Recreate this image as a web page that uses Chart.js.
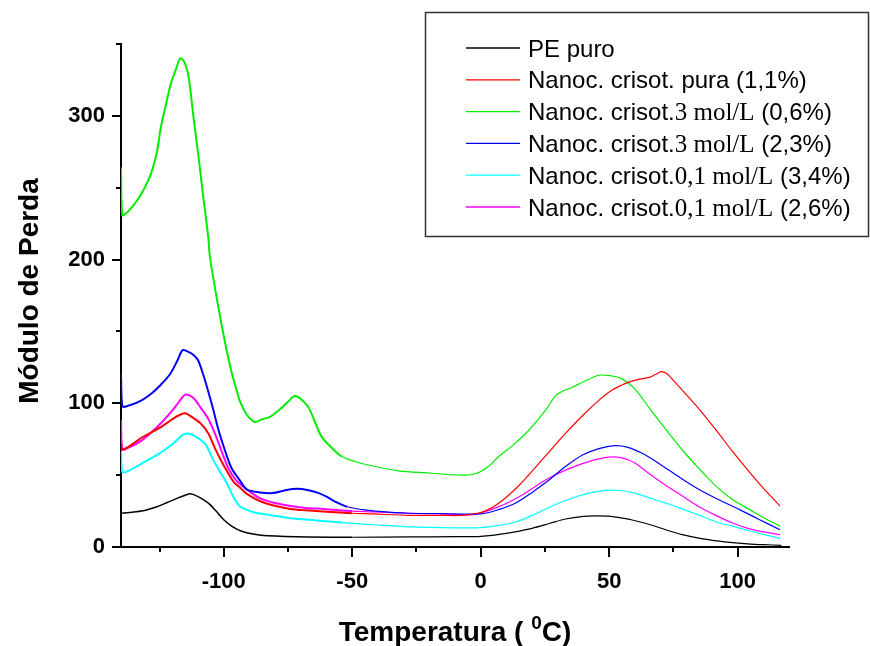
<!DOCTYPE html>
<html>
<head>
<meta charset="utf-8">
<title>Módulo de Perda x Temperatura</title>
<script src="https://cdn.jsdelivr.net/npm/chart.js@4.4.0/dist/chart.umd.min.js"></script>
<style>
    html, body { margin: 0; padding: 0; background: #ffffff; }
    #wrap { width: 870px; height: 646px; position: relative; }
</style>
</head>
<body>
<div id="wrap"><canvas id="lossChart"></canvas></div>
<script>
// series labels / colors
const seriesLabels = [
    'PE puro',
    'Nanoc. crisot. pura (1,1%)',
    'Nanoc. crisot.3 mol/L (0,6%)',
    'Nanoc. crisot.3 mol/L (2,3%)',
    'Nanoc. crisot.0,1 mol/L (3,4%)',
    'Nanoc. crisot.0,1 mol/L (2,6%)'
];
const seriesColors = ['#000000', '#ff0000', '#00ee00', '#0000ff', '#00ffff', '#ff00ff'];

// tick values
const xMajorTicks = [-100, -50, 0, 50, 100];
const xMinorTicks = [-125, -75, -25, 25, 75];
const yMajorTicks = [0, 100, 200, 300];
const yMinorTicks = [50, 150, 250, 350];

// PE puro
const tempPE = [-140, -132, -126, -122, -118, -115, -113, -110, -106, -103, -100, -96.5, -93, -88, -83, -67, -50, -28, -10, 0, 10, 20, 27, 33, 40, 45, 52, 59, 66, 72, 78.5, 86, 92, 98, 105, 110, 117];
const lossPE = [23.5, 25, 28, 31, 34, 36, 37, 35, 30.5, 25, 19, 14, 11, 8.8, 7.8, 7, 6.8, 7, 7.2, 7.4, 9.5, 13, 16.5, 19.5, 21.3, 21.6, 21, 18.8, 15.5, 12, 8.6, 5.8, 4.2, 3, 2, 1.6, 1.2];

// Nanoc. crisot. pura (1,1%)
const tempPura = [-140, -139.5, -136, -132, -128, -124, -120, -117, -115, -112, -109, -106, -103.5, -101, -98.5, -96, -93.5, -91, -86, -81, -74, -68, -60, -50, -42, -28, -15, -8, 0, 7, 15, 22.6, 28, 33, 40, 46, 51, 56.6, 61, 65.6, 68, 70.3, 72.5, 75, 78.5, 85, 91.8, 98, 104.7, 110, 116.5];
const lossPura = [72, 68, 71, 76, 80, 84, 89, 92, 93, 90, 86, 79, 69, 60, 52, 45, 41, 37, 32, 29, 26.5, 25.5, 24.5, 23.5, 23, 22, 22, 22, 24, 30.5, 43, 58, 69, 79, 92, 102, 109, 114, 116.5, 118, 120, 122, 120.5, 116, 109, 96, 81, 66.5, 52, 41, 28.5];

// Nanoc. crisot.3 mol/L (0,6%)
const temp3a = [-140, -139.5, -137.5, -135, -132, -128.5, -126, -124.5, -122.5, -120.5, -118.5, -117, -115.5, -114, -113, -112, -110, -108, -106, -105.4, -103, -101, -99, -97, -95, -93.6, -91, -88, -85, -82, -78, -75, -72.5, -70, -67, -64.5, -62, -58, -54, -48, -41, -32, -20, -8, -2, 3, 7, 12, 17.5, 22, 26, 29, 32, 35.5, 40, 46, 51, 55, 60, 65.5, 72, 78.5, 85, 91.8, 98, 104.7, 110, 116.5];
const loss3a = [264, 231, 233, 238, 246, 259, 275, 292, 308, 323, 333, 340, 338, 330, 318, 302, 274, 244, 215, 202, 176, 156, 138, 122, 109, 101, 92, 87, 89, 90.5, 96, 101, 105, 103, 97, 87, 77, 69, 63, 59, 56, 53, 51.5, 50, 51, 56, 63, 70, 79, 88, 97, 105, 108.5, 111, 115, 119.5, 119, 117, 110, 97, 82, 67.5, 54.5, 42, 33, 26, 20.5, 14.5];

// Nanoc. crisot.3 mol/L (2,3%)
const temp3b = [-140, -139.5, -136, -132, -128, -125, -121, -118, -116, -114, -112, -110, -108, -106, -104, -102, -99.5, -97, -94, -91, -86, -81, -76, -71.5, -67, -63, -60, -56, -52, -46, -41, -28, -16, 0, 7, 13.6, 20, 26.6, 33, 39.6, 46, 52, 57, 63, 69.5, 77, 85, 92.5, 100.8, 108, 116.5];
const loss3b = [120, 98, 99, 102, 107, 112, 120, 130, 137, 136, 134, 130, 120, 108, 95, 81, 67, 55, 47, 40, 38, 37.5, 39.5, 40.5, 39.5, 37.5, 35, 31, 28, 26, 25, 23.5, 23.3, 23, 26, 30.6, 38, 46.6, 56, 64, 68.5, 70.5, 69.5, 65, 58, 49, 40, 33, 26, 19.5, 12];

// Nanoc. crisot.0,1 mol/L (3,4%)
const temp01a = [-140, -139.5, -136, -132, -127, -123, -119, -116, -114, -111, -107, -104.5, -102, -99, -96, -93.5, -88, -81, -74, -64, -54, -42, -28, -10, 0, 7, 13.6, 20, 26, 30.5, 38, 45, 52.7, 60, 66, 72, 80, 86, 91.8, 98, 104, 110, 116.5];
const loss01a = [67, 52, 54, 58, 63, 67.5, 73, 78, 79, 77, 71, 62, 54, 45, 34, 28, 24, 22, 20, 18.5, 17, 15.5, 14, 13.3, 13.5, 15, 17.4, 22, 27, 30.6, 35.5, 38.5, 39.5, 37.5, 34, 30.6, 25.5, 21.5, 17.4, 14.5, 11.5, 8.8, 6];

// Nanoc. crisot.0,1 mol/L (2,6%)
const temp01b = [-140, -139.5, -136, -132, -128, -124, -120, -117, -115, -112, -109, -106, -103, -100.5, -98, -95, -91, -86, -80, -74, -67, -61, -50, -42, -28, -16, -3, 7, 15, 22, 26.6, 33, 39.6, 45, 50, 55, 60, 65.6, 72, 78.5, 85, 91.5, 98, 104, 110, 116.5];
const loss01b = [88, 68, 70, 74, 80, 87, 95, 102, 106, 104, 97, 89, 77, 65, 54, 46, 40, 34, 30.6, 28.5, 27, 26.5, 25, 24.5, 23.5, 23, 22.5, 28, 35, 43, 48, 53.5, 58, 61, 62.6, 62, 58.5, 51, 43, 35.5, 28, 22, 16.7, 13, 10.5, 8.6];

const seriesTemps = [tempPE, tempPura, temp3a, temp3b, temp01a, temp01b];
const seriesLoss = [lossPE, lossPura, loss3a, loss3b, loss01a, loss01b];


function buildDatasets() {
    return seriesLabels.map((label, i) => ({
        label: label,
        data: seriesTemps[i].map((t, k) => ({ x: t, y: seriesLoss[i][k] })),
        borderColor: seriesColors[i],
        borderWidth: 1.2,
        pointRadius: 0,
        fill: false,
        tension: 0.3,
        segment: {
            // the low temperature part is noisy in the original, so it reads heavier
            borderWidth: ctx => ctx.p0.parsed.x < -55 ? (i === 0 ? 1.5 : 2) : 1.2
        }
    }));
}


const axisDecor = {
    id: 'axisDecor',
    afterDraw(chart) {
        const { ctx, chartArea, scales } = chart;
        const x = scales.x, y = scales.y;
        ctx.save();
        ctx.strokeStyle = '#000000';
        ctx.lineWidth = 2;

        // tick marks, pointing out of the plot
        ctx.beginPath();
        xMajorTicks.concat(xMinorTicks).forEach(v => {
            const px = Math.round(x.getPixelForValue(v));
            const len = xMajorTicks.includes(v) ? 10 : 5;
            ctx.moveTo(px, chartArea.bottom);
            ctx.lineTo(px, chartArea.bottom + len);
        });
        yMajorTicks.concat(yMinorTicks).forEach(v => {
            const py = Math.round(y.getPixelForValue(v));
            const len = yMajorTicks.includes(v) ? 9 : 5;
            ctx.moveTo(chartArea.left, py);
            ctx.lineTo(chartArea.left - len, py);
        });
        ctx.stroke();

        // axis titles
        ctx.fillStyle = '#000000';
        ctx.font = 'bold 28px "Liberation Sans", Arial, sans-serif';
        ctx.textAlign = 'center';
        ctx.textBaseline = 'middle';
        ctx.save();
        ctx.translate(30, 291);
        ctx.rotate(-Math.PI / 2);
        ctx.fillText('Módulo de Perda', 0, 0);
        ctx.restore();

        const part1 = 'Temperatura ( ';
        const sup = '0';
        const part2 = 'C)';
        const bigFont = 'bold 28px "Liberation Sans", Arial, sans-serif';
        const supFont = 'bold 19px "Liberation Sans", Arial, sans-serif';
        ctx.textAlign = 'left';
        ctx.textBaseline = 'alphabetic';
        ctx.font = bigFont;
        const w1 = ctx.measureText(part1).width;
        const w3 = ctx.measureText(part2).width;
        ctx.font = supFont;
        const w2 = ctx.measureText(sup).width;
        let tx = 455 - (w1 + w2 + w3) / 2;
        const base = 641;
        ctx.font = bigFont;
        ctx.fillText(part1, tx, base);
        tx += w1;
        ctx.font = supFont;
        ctx.fillText(sup, tx, base - 12);
        tx += w2;
        ctx.font = bigFont;
        ctx.fillText(part2, tx, base);

        // legend box
        ctx.lineWidth = 1.5;
        ctx.strokeStyle = '#333333';
        ctx.strokeRect(425.5, 12.5, 443, 224);
        const sansFont = '24px "Liberation Sans", Arial, sans-serif';
        const serifFont = '25px "Liberation Serif", "Times New Roman", serif';
        seriesLabels.forEach((label, i) => {
            const rowY = 48 + i * 31.8;
            ctx.strokeStyle = seriesColors[i];
            ctx.lineWidth = 1.3;
            ctx.beginPath();
            ctx.moveTo(466, rowY);
            ctx.lineTo(520, rowY);
            ctx.stroke();
            ctx.fillStyle = '#000000';
            let lx = 528;
            label.split(/(\d[\d,]* mol\/L)/).forEach(part => {
                if (!part) return;
                ctx.font = /mol\/L/.test(part) ? serifFont : sansFont;
                ctx.fillText(part, lx, rowY + 8.5);
                lx += ctx.measureText(part).width;
            });
        });
        ctx.restore();
    }
};


function initLossChart() {
    const ctx = document.getElementById('lossChart');
    if (!ctx) return;

    const chart = new Chart(ctx, {
        type: 'line',
        data: { datasets: buildDatasets() },
        options: {
            responsive: true,
            maintainAspectRatio: false,
            animation: false,
            layout: {
                padding: { top: 44, right: 81, bottom: 0, left: 0 }
            },
            plugins: {
                legend: { display: false },
                title: { display: false },
                tooltip: { enabled: false }
            },
            scales: {
                x: {
                    type: 'linear',
                    min: -140,
                    max: 120,
                    afterBuildTicks: scale => { scale.ticks = xMajorTicks.map(v => ({ value: v })); },
                    afterFit: scale => { scale.height = 99; },
                    grid: { display: false, drawTicks: false },
                    border: { display: true, color: '#000000', width: 2 },
                    ticks: {
                        color: '#000000',
                        padding: 22,
                        maxRotation: 0,
                        font: { family: '"Liberation Sans", Arial, sans-serif', size: 22, weight: 'bold' }
                    }
                },
                y: {
                    type: 'linear',
                    min: 0,
                    max: 350,
                    afterBuildTicks: scale => { scale.ticks = yMajorTicks.map(v => ({ value: v })); },
                    afterFit: scale => { scale.width = 121; },
                    grid: { display: false, drawTicks: false },
                    border: { display: true, color: '#000000', width: 2 },
                    ticks: {
                        color: '#000000',
                        padding: 16,
                        font: { family: '"Liberation Sans", Arial, sans-serif', size: 22, weight: 'bold' }
                    }
                }
            }
        },
        plugins: [axisDecor]
    });

    window.lossChart = chart;
}

document.addEventListener('DOMContentLoaded', initLossChart);
</script>
</body>
</html>
